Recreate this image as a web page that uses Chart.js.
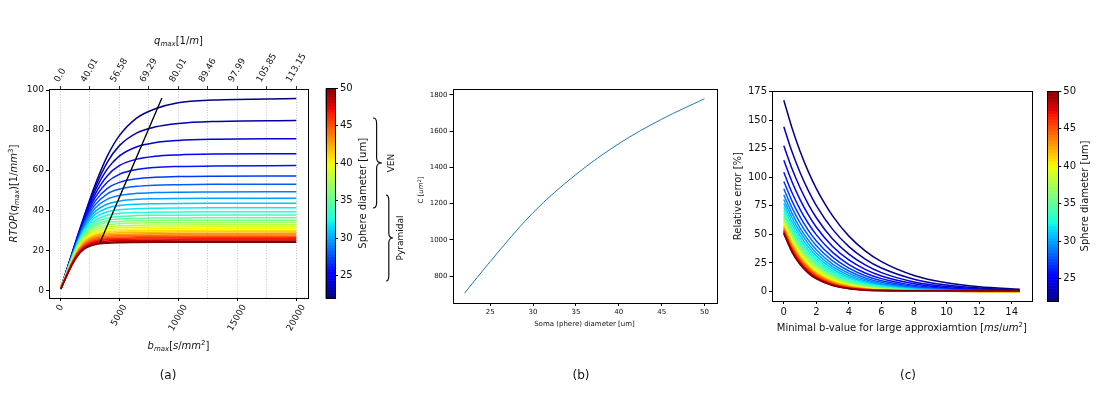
<!DOCTYPE html>
<html>
<head>
<meta charset="utf-8">
<script src="https://cdn.jsdelivr.net/npm/chart.js@4.4.1/dist/chart.umd.min.js"></script>
<style>
  body { margin: 0; background: #fff; }
  #page { position: relative; width: 1101px; height: 395px; overflow: hidden; font-family: "DejaVu Sans", sans-serif; }
  canvas { position: absolute; top: 0; }
  .tag { position: absolute; top: 368px; width: 40px; font-size: 12px; text-align: center; color: #111; }
</style>
</head>
<body>
<div id="page">
  <canvas id="rtop" width="320" height="395" style="left:0px"></canvas>
  <canvas id="barA" width="92" height="395" style="left:318px"></canvas>
  <canvas id="soma" width="320" height="395" style="left:410px"></canvas>
  <canvas id="err" width="310" height="395" style="left:725px"></canvas>
  <canvas id="barC" width="61" height="395" style="left:1040px"></canvas>
  <div class="tag" style="left:148px">(a)</div>
  <div class="tag" style="left:561px">(b)</div>
  <div class="tag" style="left:888px">(c)</div>
</div>
<script>
// sphere diameters [um], one curve each in (a) and (c)
const diameters = [22, 23, 24, 25, 26, 27, 28, 29, 30, 31, 32, 33, 34, 35, 36, 37, 38, 39, 40, 41, 42, 43, 44, 45, 46, 47, 48, 49, 50];

// (a) RTOP vs b_max
const bmaxValues = [50, 500, 1000, 1500, 2000, 2500, 3000, 4000, 5000, 6500, 8000, 10000, 13000, 20000];
const rtopByDiameter = [
  [0.93, 9.25, 18.5, 27.7, 36.6, 45.2, 53.3, 67.1, 77.1, 86.1, 90.5, 93.6, 95.0, 95.7],
  [0.92, 9.15, 18.3, 27.3, 36.0, 44.3, 51.8, 64.0, 72.1, 78.6, 81.5, 83.3, 84.3, 84.8],
  [0.91, 9.05, 18.1, 26.9, 35.4, 43.3, 50.2, 60.6, 67.0, 71.7, 73.7, 74.8, 75.4, 75.7],
  [0.90, 8.96, 17.85, 26.6, 34.8, 42.1, 48.4, 57.2, 62.2, 65.5, 66.9, 67.6, 68.0, 68.2],
  [0.89, 8.86, 17.65, 26.2, 34.1, 41.0, 46.6, 54.1, 57.9, 60.3, 61.3, 61.8, 62.1, 62.25],
  [0.88, 8.76, 17.4, 25.8, 33.4, 39.8, 44.8, 50.9, 53.9, 55.7, 56.4, 56.8, 57.0, 57.1],
  [0.87, 8.66, 17.2, 25.4, 32.6, 38.6, 43.0, 48.2, 50.5, 51.9, 52.5, 52.75, 52.9, 53.0],
  [0.86, 8.56, 17.0, 24.9, 31.9, 37.3, 41.2, 45.5, 47.3, 48.4, 48.8, 49.0, 49.1, 49.2],
  [0.85, 8.46, 16.8, 24.5, 31.1, 36.1, 39.5, 43.1, 44.5, 45.4, 45.7, 45.85, 45.95, 46.0],
  [0.84, 8.37, 16.6, 24.1, 30.4, 34.9, 38.0, 41.1, 42.3, 43.0, 43.25, 43.4, 43.47, 43.5],
  [0.83, 8.27, 16.35, 23.7, 29.7, 33.85, 36.5, 39.2, 40.2, 40.8, 41.0, 41.1, 41.17, 41.2],
  [0.82, 8.17, 16.1, 23.3, 28.9, 32.8, 35.2, 37.5, 38.4, 38.85, 39.03, 39.12, 39.18, 39.2],
  [0.81, 8.07, 15.9, 22.9, 28.2, 31.9, 34.1, 36.1, 36.9, 37.3, 37.45, 37.53, 37.58, 37.6],
  [0.80, 7.97, 15.7, 22.5, 27.65, 31.0, 33.0, 34.9, 35.6, 35.9, 36.07, 36.14, 36.18, 36.2],
  [0.79, 7.87, 15.5, 22.1, 27.1, 30.2, 32.1, 33.8, 34.4, 34.76, 34.88, 34.94, 34.98, 35.0],
  [0.78, 7.78, 15.25, 21.8, 26.5, 29.5, 31.2, 32.7, 33.3, 33.6, 33.7, 33.75, 33.78, 33.8],
  [0.77, 7.68, 15.0, 21.4, 25.9, 28.7, 30.3, 31.7, 32.2, 32.5, 32.6, 32.65, 32.68, 32.7],
  [0.76, 7.58, 14.8, 21.0, 25.4, 28.0, 29.5, 30.8, 31.3, 31.5, 31.6, 31.65, 31.68, 31.7],
  [0.75, 7.48, 14.6, 20.65, 24.9, 27.4, 28.8, 30.0, 30.4, 30.64, 30.72, 30.76, 30.79, 30.8],
  [0.74, 7.38, 14.4, 20.3, 24.4, 26.7, 28.0, 29.15, 29.55, 29.75, 29.83, 29.87, 29.89, 29.9],
  [0.73, 7.29, 14.2, 19.9, 23.9, 26.1, 27.4, 28.4, 28.8, 28.96, 29.03, 29.07, 29.09, 29.1],
  [0.72, 7.19, 14.0, 19.6, 23.4, 25.5, 26.7, 27.65, 28.0, 28.17, 28.24, 28.27, 28.29, 28.3],
  [0.71, 7.09, 13.8, 19.3, 22.9, 24.95, 26.1, 27.0, 27.3, 27.48, 27.54, 27.57, 27.59, 27.6],
  [0.70, 6.99, 13.6, 18.96, 22.5, 24.4, 25.5, 26.3, 26.6, 26.79, 26.84, 26.87, 26.89, 26.9],
  [0.69, 6.89, 13.4, 18.65, 22.0, 23.9, 24.9, 25.75, 26.04, 26.19, 26.24, 26.27, 26.29, 26.3],
  [0.68, 6.79, 13.2, 18.3, 21.6, 23.45, 24.4, 25.2, 25.45, 25.6, 25.64, 25.67, 25.69, 25.7],
  [0.67, 6.70, 13.0, 18.0, 21.2, 22.95, 23.9, 24.6, 24.86, 25.0, 25.05, 25.07, 25.09, 25.1],
  [0.66, 6.60, 12.8, 17.7, 20.8, 22.5, 23.3, 24.0, 24.27, 24.4, 24.45, 24.47, 24.49, 24.5],
  [0.65, 6.50, 12.6, 17.4, 20.4, 22.0, 22.9, 23.55, 23.8, 23.9, 23.95, 23.97, 23.99, 24.0]
];
const knee_b = [3354, 8618];
const knee_rtop = [23.5, 96];
const bmaxTicks = [0, 5000, 10000, 15000, 20000];
const qTickPositions = [0, 2500, 5000, 7500, 10000, 12500, 15000, 17500, 20000];
const qTickLabels = ['0.0', '40.01', '56.58', '69.29', '80.01', '89.46', '97.99', '105.85', '113.15'];
const rtopTicks = [0, 20, 40, 60, 80, 100];

// (b) C vs soma diameter
const somaDiameter = [22, 25, 30, 35, 40, 45, 50];
const somaC = [705, 880, 1150, 1360, 1530, 1665, 1778];
const somaXTicks = [25, 30, 35, 40, 45, 50];
const somaYTicks = [800, 1000, 1200, 1400, 1600, 1800];

// (c) relative error vs minimal b-value
const minB = [0, 0.5, 1, 1.5, 2, 3, 4, 5, 6, 8, 10, 12, 14.5];
const errorByDiameter = [
  [167.7, 143.6, 123.0, 105.3, 90.2, 66.2, 48.5, 35.6, 26.1, 14.0, 7.55, 4.07, 1.87],
  [144.4, 122.7, 104.3, 88.6, 75.3, 54.4, 39.3, 28.4, 20.5, 10.7, 5.57, 2.91, 1.29],
  [127.8, 107.8, 90.9, 76.6, 64.6, 45.9, 32.7, 23.2, 16.5, 8.35, 4.22, 2.13, 0.91],
  [115.0, 96.2, 80.5, 67.3, 56.3, 39.4, 27.6, 19.3, 13.5, 6.63, 3.24, 1.59, 0.65],
  [104.5, 86.7, 72.0, 59.8, 49.6, 34.2, 23.6, 16.2, 11.2, 5.31, 2.52, 1.20, 0.47],
  [96.4, 79.4, 65.4, 53.8, 44.3, 30.1, 20.4, 13.8, 9.38, 4.31, 1.98, 0.91, 0.35],
  [90.0, 73.5, 60.1, 49.1, 40.1, 26.8, 17.9, 11.9, 7.96, 3.55, 1.58, 0.70, 0.26],
  [84.7, 68.7, 55.6, 45.1, 36.6, 24.0, 15.8, 10.4, 6.81, 2.94, 1.27, 0.55, 0.19],
  [80.6, 64.8, 52.1, 41.9, 33.7, 21.8, 14.1, 9.11, 5.89, 2.46, 1.03, 0.43, 0.14],
  [77.0, 61.4, 49.0, 39.1, 31.2, 19.8, 12.6, 8.03, 5.11, 2.07, 0.84, 0.34, 0.11],
  [73.8, 58.4, 46.2, 36.6, 28.9, 18.1, 11.4, 7.11, 4.45, 1.74, 0.68, 0.27, 0.08],
  [71.1, 55.8, 43.8, 34.4, 27.0, 16.6, 10.2, 6.31, 3.89, 1.48, 0.56, 0.21, 0.06],
  [68.7, 53.5, 41.7, 32.4, 25.3, 15.3, 9.28, 5.63, 3.41, 1.25, 0.46, 0.17, 0.05],
  [66.5, 51.4, 39.7, 30.6, 23.7, 14.1, 8.42, 5.02, 3.00, 1.07, 0.38, 0.13, 0.04],
  [64.6, 49.5, 37.9, 29.0, 22.3, 13.1, 7.67, 4.50, 2.64, 0.91, 0.31, 0.11, 0.03],
  [62.9, 47.8, 36.3, 27.6, 21.0, 12.1, 6.99, 4.04, 2.33, 0.78, 0.26, 0.09, 0.02],
  [61.4, 46.3, 34.9, 26.3, 19.8, 11.3, 6.39, 3.63, 2.06, 0.67, 0.21, 0.07, 0.02],
  [60.0, 44.9, 33.5, 25.1, 18.7, 10.5, 5.85, 3.27, 1.83, 0.57, 0.18, 0.06, 0.01],
  [58.8, 43.6, 32.3, 24.0, 17.8, 9.77, 5.37, 2.95, 1.62, 0.49, 0.15, 0.04, 0.01],
  [57.6, 42.4, 31.1, 22.9, 16.8, 9.11, 4.92, 2.66, 1.44, 0.42, 0.12, 0.04, 0.01],
  [56.5, 41.2, 30.0, 21.9, 16.0, 8.50, 4.52, 2.41, 1.28, 0.36, 0.10, 0.03, 0.01],
  [55.5, 40.1, 29.0, 21.0, 15.2, 7.95, 4.16, 2.17, 1.14, 0.31, 0.09, 0.02, 0.0],
  [54.6, 39.2, 28.1, 20.2, 14.5, 7.44, 3.83, 1.97, 1.01, 0.27, 0.07, 0.02, 0.0],
  [53.8, 38.3, 27.2, 19.4, 13.8, 6.97, 3.53, 1.79, 0.90, 0.30, 0.2, 0.2, 0.2],
  [53.1, 37.5, 26.4, 18.6, 13.2, 6.55, 3.26, 1.62, 0.81, 0.4, 0.4, 0.4, 0.4],
  [52.4, 36.7, 25.6, 17.9, 12.6, 6.15, 3.01, 1.47, 0.75, 0.5, 0.5, 0.5, 0.5],
  [51.7, 35.9, 24.9, 17.3, 12.0, 5.76, 2.77, 1.33, 0.72, 0.55, 0.55, 0.55, 0.55],
  [51.1, 35.2, 24.2, 16.6, 11.4, 5.42, 2.56, 1.21, 0.7, 0.6, 0.6, 0.6, 0.6],
  [50.6, 34.5, 23.5, 16.1, 11.0, 5.10, 2.37, 1.10, 0.75, 0.7, 0.7, 0.7, 0.7]
];
const minBTicks = [0, 2, 4, 6, 8, 10, 12, 14];
const errorTicks = [0, 25, 50, 75, 100, 125, 150, 175];

// colorbar
const barTicks = [25, 30, 35, 40, 45, 50];
const venRange = [34.04, 46.04];
const pyramidalRange = [24.31, 35.77];

Chart.defaults.font.family = '"DejaVu Sans", sans-serif';
Chart.defaults.color = '#111';

const dMin = diameters[0], dMax = diameters[diameters.length - 1];

function lerp(t, pts) {
  for (let i = 1; i < pts.length; i++) {
    if (t <= pts[i][0]) {
      const [t0, v0] = pts[i - 1], [t1, v1] = pts[i];
      return v0 + (v1 - v0) * (t - t0) / (t1 - t0);
    }
  }
  return pts[pts.length - 1][1];
}
function jet(t) {
  t = Math.min(1, Math.max(0, t));
  const r = lerp(t, [[0, 0], [0.35, 0], [0.66, 1], [0.89, 1], [1, 0.5]]);
  const g = lerp(t, [[0, 0], [0.125, 0], [0.375, 1], [0.64, 1], [0.91, 0], [1, 0]]);
  const b = lerp(t, [[0, 0.5], [0.11, 1], [0.34, 1], [0.65, 0], [1, 0]]);
  return `rgb(${Math.round(r * 255)},${Math.round(g * 255)},${Math.round(b * 255)})`;
}
const colorOf = d => jet((d - dMin) / (dMax - dMin));

const fixed = size => scale => { if (scale.isHorizontal()) scale.height = size; else scale.width = size; };
const setTicks = values => scale => { scale.ticks = values.map(v => ({ value: v })); };

const frame = {
  id: 'frame',
  afterDraw(chart) {
    const { ctx, chartArea: a } = chart;
    ctx.save();
    ctx.strokeStyle = '#000';
    ctx.lineWidth = 1;
    ctx.strokeRect(Math.round(a.left) + 0.5, Math.round(a.top) + 0.5, Math.round(a.right - a.left), Math.round(a.bottom - a.top));
    ctx.restore();
  }
};

function vText(ctx, text, x, y, size) {
  ctx.save();
  ctx.translate(x, y);
  ctx.rotate(-Math.PI / 2);
  ctx.font = size + 'px "DejaVu Sans"';
  ctx.fillStyle = '#111';
  ctx.textAlign = 'center';
  ctx.textBaseline = 'middle';
  ctx.fillText(text, 0, 0);
  ctx.restore();
}

// matplotlib-like mathtext label: parts are [text, kind], kind = n | i | sub | sup
function drawMath(ctx, parts, x, y, size, vertical) {
  const fontFor = k => (k === 'n' || k === 'sup' ? '' : 'italic ') + (k === 'sub' || k === 'sup' ? size * 0.7 : size) + 'px "DejaVu Sans"';
  let total = 0;
  parts.forEach(([t, k]) => { ctx.font = fontFor(k); total += ctx.measureText(t).width; });
  ctx.save();
  ctx.translate(x, y);
  if (vertical) ctx.rotate(-Math.PI / 2);
  ctx.fillStyle = '#111';
  ctx.textBaseline = 'alphabetic';
  ctx.textAlign = 'left';
  let cx = -total / 2;
  const base = size * 0.35;
  parts.forEach(([t, k]) => {
    ctx.font = fontFor(k);
    const dy = k === 'sub' ? size * 0.22 : k === 'sup' ? -size * 0.4 : 0;
    ctx.fillText(t, cx, base + dy);
    cx += ctx.measureText(t).width;
  });
  ctx.restore();
}
const mathLabels = list => ({
  id: 'mathLabels',
  afterDraw(chart) {
    list.forEach(l => {
      const [x, y] = l.at(chart.chartArea);
      drawMath(chart.ctx, l.parts, x, y, l.size, l.vertical);
    });
  }
});

// rotated tick labels centred on their ticks (matplotlib rotation=60)
const slantTicks = axes => ({
  id: 'slantTicks',
  afterDraw(chart) {
    const { ctx, chartArea: a } = chart;
    axes.forEach(ax => {
      const scale = chart.scales[ax.id];
      const ang = ax.angle * Math.PI / 180;
      ctx.save();
      ctx.font = ax.size + 'px "DejaVu Sans"';
      ctx.fillStyle = '#111';
      ctx.textAlign = 'center';
      ctx.textBaseline = 'middle';
      scale.ticks.forEach((t, i) => {
        const text = ax.labels[i];
        const w = ctx.measureText(text).width, h = ax.size * 1.1;
        const bh = w * Math.sin(ang) + h * Math.cos(ang);
        const x = scale.getPixelForValue(t.value);
        const y = ax.side === 'top' ? a.top - ax.gap - bh / 2 : a.bottom + ax.gap + bh / 2;
        ctx.save();
        ctx.translate(x, y);
        ctx.rotate(-ang);
        ctx.fillText(text, 0, 0);
        ctx.restore();
      });
      ctx.restore();
    });
  }
});

const jetBar = {
  id: 'jetBar',
  beforeDraw(chart) {
    const { ctx, chartArea: a, scales: { y } } = chart;
    for (let v = dMin; v < dMax - 1e-9; v += 0.1) {
      const top = y.getPixelForValue(Math.min(v + 0.1, dMax)), bot = y.getPixelForValue(v);
      ctx.fillStyle = jet((v + 0.05 - dMin) / (dMax - dMin));
      ctx.fillRect(a.left, top, a.right - a.left, bot - top + 0.6);
    }
  },
  afterDraw(chart, args, opts) {
    const a = chart.chartArea;
    vText(chart.ctx, 'Sphere diameter [um]', a.right + opts.labelGap, (a.top + a.bottom) / 2, 10);
  }
};

function brace(ctx, x0, yTop, yBot, w) {
  const xm = x0 + w * 0.4, xt = x0 + w, ym = (yTop + yBot) / 2, r = 5;
  ctx.beginPath();
  ctx.moveTo(x0, yTop);
  ctx.quadraticCurveTo(xm, yTop, xm, yTop + r);
  ctx.lineTo(xm, ym - r);
  ctx.quadraticCurveTo(xm, ym, xt, ym);
  ctx.quadraticCurveTo(xm, ym, xm, ym + r);
  ctx.lineTo(xm, yBot - r);
  ctx.quadraticCurveTo(xm, yBot, x0, yBot);
  ctx.stroke();
}

const groups = {
  id: 'groups',
  afterDraw(chart) {
    const { ctx, chartArea: a, scales: { y } } = chart;
    ctx.save();
    ctx.strokeStyle = '#111';
    ctx.lineWidth = 1.2;
    brace(ctx, a.right + 38, y.getPixelForValue(venRange[1]), y.getPixelForValue(venRange[0]), 9);
    brace(ctx, a.right + 51, y.getPixelForValue(pyramidalRange[1]), y.getPixelForValue(pyramidalRange[0]), 7);
    ctx.restore();
    vText(ctx, 'VEN', a.right + 57, y.getPixelForValue((venRange[0] + venRange[1]) / 2), 9);
    vText(ctx, 'Pyramidal', a.right + 66, y.getPixelForValue((pyramidalRange[0] + pyramidalRange[1]) / 2), 9);
  }
};

function tickOpts(size, extra) {
  return Object.assign({ color: '#111', font: { size: size }, padding: 2, autoSkip: false, callback: v => String(v) }, extra || {});
}
const plainGrid = { drawOnChartArea: false, tickLength: 3, tickColor: '#000' };
const base = {
  responsive: false, animation: false, devicePixelRatio: 1,
  plugins: { legend: { display: false }, tooltip: { enabled: false } },
  elements: { point: { radius: 0 }, line: { cubicInterpolationMode: 'monotone' } }
};

// (a)
const rtopSets = diameters.map((d, i) => ({
  data: bmaxValues.map((b, j) => ({ x: b, y: rtopByDiameter[i][j] })),
  borderColor: colorOf(d), borderWidth: 1.5, order: dMax - d + 1
}));
rtopSets.push({
  data: knee_b.map((b, j) => ({ x: b, y: knee_rtop[j] })),
  borderColor: '#000', borderWidth: 1.3, order: 0
});

new Chart(document.getElementById('rtop'), {
  type: 'line',
  data: { datasets: rtopSets },
  options: Object.assign({}, base, {
    layout: { padding: { left: 0, right: 12, top: 34, bottom: 45 } },
    scales: {
      x: {
        type: 'linear', position: 'bottom', min: -947.5, max: 20997.5,
        afterBuildTicks: setTicks(bmaxTicks), afterFit: fixed(52),
        grid: plainGrid, border: { display: false },
        ticks: { display: false }
      },
      x2: {
        type: 'linear', axis: 'x', position: 'top', min: -947.5, max: 20997.5,
        afterBuildTicks: setTicks(qTickPositions), afterFit: fixed(55),
        grid: { color: 'rgba(170,170,170,0.9)', lineWidth: 0.8, tickLength: 3, tickColor: '#000' },
        border: { display: false, dash: [1, 1.6] },
        ticks: { display: false }
      },
      y: {
        type: 'linear', min: -3.84, max: 100.5,
        afterBuildTicks: setTicks(rtopTicks), afterFit: fixed(49),
        grid: plainGrid, border: { display: false },
        ticks: tickOpts(9)
      }
    }
  }),
  plugins: [frame,
    slantTicks([
      { id: 'x', side: 'bottom', labels: bmaxTicks.map(String), size: 9, angle: 60, gap: 5 },
      { id: 'x2', side: 'top', labels: qTickLabels, size: 9, angle: 60, gap: 5 }
    ]),
    mathLabels([
      { parts: [['RTOP', 'i'], ['(', 'n'], ['q', 'i'], ['max', 'sub'], [')[1/', 'n'], ['mm', 'i'], ['3', 'sup'], [']', 'n']],
        size: 10, vertical: true, at: a => [13, (a.top + a.bottom) / 2] },
      { parts: [['b', 'i'], ['max', 'sub'], ['[', 'n'], ['s', 'i'], ['/', 'n'], ['mm', 'i'], ['2', 'sup'], [']', 'n']],
        size: 10, at: a => [(a.left + a.right) / 2, 345] },
      { parts: [['q', 'i'], ['max', 'sub'], ['[1/', 'n'], ['m', 'i'], [']', 'n']],
        size: 10, at: a => [(a.left + a.right) / 2, 40] }
    ])
  ]
});

// colorbar (a) with group braces
new Chart(document.getElementById('barA'), {
  type: 'scatter',
  data: { datasets: [] },
  options: Object.assign({}, base, {
    layout: { padding: { left: 7.7, right: 0, top: 88.3, bottom: 96.7 } },
    plugins: { legend: { display: false }, tooltip: { enabled: false }, jetBar: { labelGap: 28 } },
    scales: {
      x: { display: false, min: 0, max: 1 },
      y: {
        position: 'right', min: dMin, max: dMax,
        afterBuildTicks: setTicks(barTicks), afterFit: fixed(75),
        grid: plainGrid, border: { display: false }, ticks: tickOpts(10)
      }
    }
  }),
  plugins: [jetBar, groups, frame]
});

// (b)
new Chart(document.getElementById('soma'), {
  type: 'line',
  data: { datasets: [{
    data: somaDiameter.map((d, j) => ({ x: d, y: somaC[j] })),
    borderColor: '#1f77b4', borderWidth: 1
  }] },
  options: Object.assign({}, base, {
    layout: { padding: { left: 0, right: 13.5, top: 89, bottom: 67 } },
    scales: {
      x: {
        type: 'linear', min: 20.6, max: 51.4,
        afterBuildTicks: setTicks(somaXTicks), afterFit: fixed(25),
        grid: plainGrid, border: { display: false }, ticks: tickOpts(7, { maxRotation: 0 }),
        title: { display: true, text: 'Soma (phere) diameter [um]', color: '#111', font: { size: 7 }, padding: 0 }
      },
      y: {
        type: 'linear', min: 651.35, max: 1831.65,
        afterBuildTicks: setTicks(somaYTicks), afterFit: fixed(42.5),
        grid: plainGrid, border: { display: false }, ticks: tickOpts(7)
      }
    }
  }),
  plugins: [frame,
    mathLabels([
      { parts: [['C [', 'n'], ['um', 'i'], ['2', 'sup'], [']', 'n']], size: 7, vertical: true, at: a => [11, (a.top + a.bottom) / 2 - 6] }
    ])
  ]
});

// (c)
const errorSets = diameters.map((d, i) => ({
  data: minB.map((x, j) => ({ x: x, y: errorByDiameter[i][j] })),
  borderColor: colorOf(d), borderWidth: 1.5, order: dMax - d + 1
}));

new Chart(document.getElementById('err'), {
  type: 'line',
  data: { datasets: errorSets },
  options: Object.assign({}, base, {
    layout: { padding: { left: 0, right: 3.4, top: 91.3, bottom: 62 } },
    scales: {
      x: {
        type: 'linear', min: -0.725, max: 15.225,
        afterBuildTicks: setTicks(minBTicks), afterFit: fixed(32),
        grid: plainGrid, border: { display: false }, ticks: tickOpts(10, { maxRotation: 0 })
      },
      y: {
        type: 'linear', min: -8.4, max: 175.5,
        afterBuildTicks: setTicks(errorTicks), afterFit: fixed(47),
        grid: plainGrid, border: { display: false }, ticks: tickOpts(10),
        title: { display: true, text: 'Relative error [%]', color: '#111', font: { size: 10 }, padding: { top: 7, bottom: 0 } }
      }
    }
  }),
  plugins: [frame,
    mathLabels([
      { parts: [['Minimal b-value for large approxiamtion [', 'n'], ['ms', 'i'], ['/', 'n'], ['um', 'i'], ['2', 'sup'], [']', 'n']],
        size: 10, at: a => [(a.left + a.right) / 2, 327] }
    ])
  ]
});

// colorbar (c)
new Chart(document.getElementById('barC'), {
  type: 'scatter',
  data: { datasets: [] },
  options: Object.assign({}, base, {
    layout: { padding: { left: 7.3, right: 0, top: 91, bottom: 94 } },
    plugins: { legend: { display: false }, tooltip: { enabled: false }, jetBar: { labelGap: 27 } },
    scales: {
      x: { display: false, min: 0, max: 1 },
      y: {
        position: 'right', min: dMin, max: dMax,
        afterBuildTicks: setTicks(barTicks), afterFit: fixed(42.7),
        grid: plainGrid, border: { display: false }, ticks: tickOpts(10)
      }
    }
  }),
  plugins: [jetBar, frame]
});
</script>
</body>
</html>
